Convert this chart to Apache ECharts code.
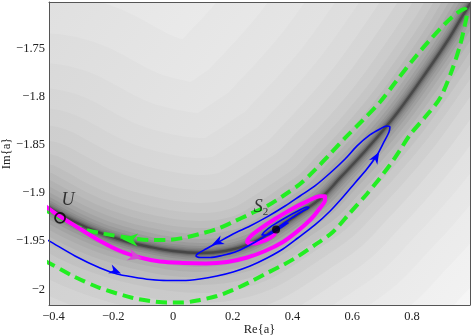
<!DOCTYPE html>
<html>
<head>
<meta charset="utf-8">
<script src="https://cdn.jsdelivr.net/npm/echarts@6/dist/echarts.min.js"></script>
<style>
html, body { margin: 0; padding: 0; background: #fff; }
#chart { width: 471px; height: 336px; }
</style>
</head>
<body>
<div id="chart"></div>
<script>
// values, as [Re{a}, Im{a}]
var xTicks = [-0.4, -0.2, 0, 0.2, 0.4, 0.6, 0.8];
var yTicks = [-2, -1.95, -1.9, -1.85, -1.8, -1.75];

// dark valley of the background map
var valley = [[-0.445,-1.9105],[-0.415,-1.9157],[-0.328,-1.9302],[-0.244,-1.9416],[-0.161,-1.9499],
  [-0.077,-1.9561],[0,-1.9603],[0.090,-1.9623],[0.174,-1.9603],[0.258,-1.9530],[0.345,-1.9374],
  [0.425,-1.9208],[0.492,-1.9063],[0.559,-1.8845],[0.649,-1.8545],[0.750,-1.8171],[0.860,-1.7694],
  [0.927,-1.7383],[0.967,-1.7175],[1.028,-1.6874]];

// green dashed closed orbit
var greenLoop = [[-0.428,-1.9706],[-0.415,-1.9727],[-0.335,-1.9862],[-0.244,-1.9987],[-0.134,-2.0090],
  [-0.077,-2.0121],[-0.020,-2.0137],[0.033,-2.0137],[0.090,-2.0111],[0.147,-2.0070],[0.201,-2.0007],
  [0.258,-1.9924],[0.315,-1.9831],[0.368,-1.9748],[0.415,-1.9665],[0.475,-1.9540],[0.535,-1.9406],
  [0.592,-1.9209],[0.649,-1.9011],[0.693,-1.8845],[0.726,-1.8711],[0.760,-1.8555],[0.793,-1.8399],
  [0.844,-1.8213],[0.894,-1.8016],[0.934,-1.7725],[0.961,-1.7466],[0.977,-1.7258],[0.984,-1.7134],
  [0.977,-1.7092],[0.951,-1.7134],[0.910,-1.7248],[0.860,-1.7414],[0.803,-1.7621],[0.750,-1.7829],
  [0.693,-1.8057],[0.636,-1.8244],[0.576,-1.8430],[0.526,-1.8596],[0.475,-1.8762],[0.425,-1.8908],
  [0.368,-1.9032],[0.315,-1.9136],[0.258,-1.9219],[0.201,-1.9302],[0.147,-1.9374],[0.090,-1.9426],
  [0.033,-1.9468],[-0.020,-1.9489],[-0.077,-1.9489],[-0.144,-1.9468],[-0.244,-1.9416],[-0.311,-1.9364],
  [-0.378,-1.9260],[-0.415,-1.9198],[-0.428,-1.9177]];

// blue trajectory spiralling into S2
var blueTraj = [[-0.428,-1.9478],[-0.415,-1.9498],[-0.328,-1.9654],[-0.244,-1.9779],[-0.187,-1.9841],
  [-0.134,-1.9872],[-0.077,-1.9898],[-0.020,-1.9909],[0.033,-1.9909],[0.090,-1.9893],[0.147,-1.9862],
  [0.201,-1.9820],[0.258,-1.9758],[0.315,-1.9675],[0.368,-1.9582],[0.418,-1.9468],[0.475,-1.9333],
  [0.526,-1.9188],[0.569,-1.9043],[0.609,-1.8897],[0.649,-1.8752],[0.683,-1.8607],[0.706,-1.8472],
  [0.723,-1.8368],[0.726,-1.8316],[0.716,-1.8306],[0.693,-1.8337],[0.659,-1.8399],[0.616,-1.8513],
  [0.576,-1.8648],[0.526,-1.8794],[0.475,-1.8928],[0.425,-1.9032],[0.375,-1.9136],[0.315,-1.9249],
  [0.258,-1.9343],[0.201,-1.9426],[0.147,-1.9520],[0.110,-1.9582],[0.084,-1.9629],[0.077,-1.9654],
  [0.090,-1.9670],[0.124,-1.9670],[0.164,-1.9649],[0.208,-1.9613],[0.251,-1.9551],[0.298,-1.9468],
  [0.348,-1.9364],[0.398,-1.9260],[0.435,-1.9188],[0.455,-1.9151],[0.449,-1.9146],[0.418,-1.9188],
  [0.375,-1.9260],[0.331,-1.9343],[0.305,-1.9406],[0.298,-1.9437],[0.315,-1.9437],[0.345,-1.9394],
  [0.371,-1.9343],[0.385,-1.9312],[0.371,-1.9322],[0.345,-1.9374]];

// magenta trajectory from U to S2
var magentaTraj = [[-0.432,-1.9126],[-0.415,-1.9166],[-0.378,-1.9245],[-0.311,-1.9374],[-0.244,-1.9499],
  [-0.177,-1.9603],[-0.110,-1.9670],[-0.044,-1.9712],[0.033,-1.9727],[0.110,-1.9732],[0.181,-1.9717],
  [0.248,-1.9670],[0.308,-1.9603],[0.368,-1.9509],[0.418,-1.9394],[0.462,-1.9271],[0.492,-1.9157],
  [0.509,-1.9073],[0.509,-1.9036],[0.492,-1.9036],[0.452,-1.9083],[0.398,-1.9166],[0.341,-1.9271],
  [0.291,-1.9374],[0.258,-1.9456],[0.248,-1.9509],[0.268,-1.9525],[0.311,-1.9489],[0.338,-1.9437],
  [0.345,-1.9374]];

// arrow heads: [tailRe, tailIm, tipRe, tipIm]
var blueArrows = [[-0.211,-1.9789,-0.174,-1.9836],[0.669,-1.8689,0.690,-1.8576],[0.164,-1.9489,0.130,-1.9540]];
var greenArrows = [[-0.117,-1.9489,-0.171,-1.9478]];
var magentaArrows = [[-0.144,-1.9644,-0.104,-1.9680]];

var pointU = [-0.378, -1.926];
var pointS2 = [0.345, -1.938];

// shading around the valley: [stroke width px, black alpha]
var glowLayers = [[520,0.02],[420,0.014],[340,0.014],[280,0.014],[230,0.015],[190,0.017],[156,0.02],
  [126,0.024],[100,0.027],[80,0.029],[64,0.031],[50,0.035],[38,0.04],[28,0.047],[20,0.06],
  [14,0.065],[10,0.08],[7,0.094],[4.6,0.16],[2.4,0.29]];

var serif = "'Liberation Serif', 'DejaVu Serif', serif";

function fmt(v) {
  return String(+v.toFixed(2)).replace('-', '\u2212');
}

function arrowSeries(data, color, len, half) {
  return {
    type: 'custom',
    data: data,
    z: 6,
    silent: true,
    encode: { x: [0, 2], y: [1, 3] },
    renderItem: function (params, api) {
      var a = api.coord([api.value(0), api.value(1)]);
      var b = api.coord([api.value(2), api.value(3)]);
      var dx = b[0] - a[0], dy = b[1] - a[1];
      var d = Math.sqrt(dx * dx + dy * dy);
      dx /= d; dy /= d;
      var nx = -dy, ny = dx;
      var bx = b[0] - dx * len, by = b[1] - dy * len;
      return {
        type: 'polygon',
        shape: { points: [b, [bx + nx * half, by + ny * half],
          [b[0] - dx * len * 0.7, b[1] - dy * len * 0.7], [bx - nx * half, by - ny * half]] },
        style: { fill: color }
      };
    }
  };
}

var series = [];
// one wide translucent stroke of the valley per layer, clipped to the plot
series.push({
  type: 'custom', data: glowLayers, clip: true, silent: true, z: 1,
  renderItem: function (params, api) {
    var pts = valley.map(function (p) { return api.coord(p); });
    return {
      type: 'polyline',
      shape: { points: pts, smooth: 0.4 },
      style: { stroke: 'rgba(0,0,0,' + api.value(1) + ')', lineWidth: api.value(0),
        lineCap: 'round', lineJoin: 'round', fill: null }
    };
  }
});
series.push({
  type: 'line', data: greenLoop, smooth: 0.3, symbol: 'none', silent: true, z: 3,
  lineStyle: { color: '#22ee22', width: 4, type: [11, 6] }
});
series.push({
  type: 'line', data: magentaTraj, smooth: 0.3, symbol: 'none', silent: true, z: 4,
  lineStyle: { color: '#ff00ff', width: 4, join: 'round' }
});
series.push({
  type: 'line', data: blueTraj, smooth: 0.3, symbol: 'none', silent: true, z: 5,
  lineStyle: { color: '#0000ff', width: 1.6, join: 'round' }
});
series.push(arrowSeries(greenArrows, '#22ee22', 16, 6.5));
series.push(arrowSeries(magentaArrows, '#d548d5', 14, 6));
series.push(arrowSeries(blueArrows, '#0000ff', 12, 4.8));
series.push({
  type: 'scatter', data: [pointU], symbol: 'circle', symbolSize: 10, z: 7, silent: true,
  itemStyle: { color: 'rgba(0,0,0,0)', borderColor: '#000', borderWidth: 1.8 },
  label: { show: true, position: 'inside', offset: [8, -18], formatter: 'U',
    fontFamily: serif, fontStyle: 'italic', fontSize: 18, color: '#111' }
});
series.push({
  type: 'scatter', data: [pointS2], symbol: 'circle', symbolSize: 8, z: 7, silent: true,
  itemStyle: { color: '#000' },
  label: { show: true, position: 'inside', offset: [-15, -22], formatter: '{s|S}{sub|2}',
    rich: {
      s: { fontFamily: serif, fontStyle: 'italic', fontSize: 18, color: '#111' },
      sub: { fontFamily: serif, fontSize: 11, color: '#111', padding: [9, 0, 0, 0] }
    } }
});

var axisText = { fontFamily: serif, fontSize: 12.5, color: '#222' };
var frame = { show: true, onZero: false, lineStyle: { color: '#555', width: 1 } };

var chart = echarts.init(document.getElementById('chart'));
chart.setOption({
  animation: false,
  backgroundColor: '#fff',
  grid: {
    left: 49, top: 2, width: 421, height: 303, show: true, borderWidth: 0,
    containLabel: false, outerBoundsMode: 'none',
    backgroundColor: new echarts.graphic.LinearGradient(0, 0, 1, 1, [
      { offset: 0, color: '#e9e9e9' }, { offset: 1, color: '#ffffff' }])
  },
  xAxis: [{
    type: 'value', min: -0.4151, max: 0.9941, z: 10,
    name: 'Re{a}', nameLocation: 'middle', nameGap: 18, nameMoveOverlap: false,
    nameTextStyle: axisText,
    axisLine: frame, axisTick: { show: false }, splitLine: { show: false },
    axisLabel: Object.assign({ customValues: xTicks, formatter: fmt, margin: 5 }, axisText)
  }, {
    type: 'value', min: -0.4151, max: 0.9941, z: 10, position: 'top',
    axisLine: frame, axisTick: { show: false }, splitLine: { show: false }, axisLabel: { show: false }
  }],
  yAxis: [{
    type: 'value', min: -2.0163, max: -1.702, z: 10,
    name: 'Im{a}', nameLocation: 'middle', nameGap: 36, nameMoveOverlap: false,
    nameTextStyle: axisText,
    axisLine: frame, axisTick: { show: false }, splitLine: { show: false },
    axisLabel: Object.assign({ customValues: yTicks, formatter: fmt, margin: 4 }, axisText)
  }, {
    type: 'value', min: -2.0163, max: -1.702, z: 10, position: 'right',
    axisLine: frame, axisTick: { show: false }, splitLine: { show: false }, axisLabel: { show: false }
  }],
  series: series
});
</script>
</body>
</html>
